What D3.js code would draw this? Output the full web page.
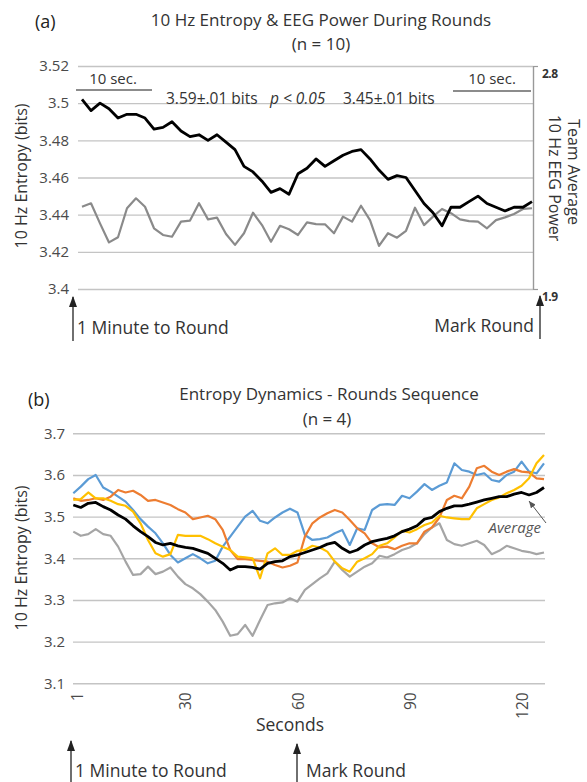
<!DOCTYPE html>
<html><head><meta charset="utf-8">
<script src="https://cdn.jsdelivr.net/npm/d3@7"></script>
<style>
body{margin:0;background:#fff}
svg{display:block}
text{font-family:"Open Sans",sans-serif}
</style>
</head><body><svg id="c" width="587" height="782"></svg>
<script>
// ---------- Panel (a) data ----------
const entropyA = [3.502,3.496,3.500,3.497,3.492,3.494,3.494,3.492,3.486,3.487,3.490,3.485,3.482,3.483,3.480,3.483,3.479,3.475,3.466,3.463,3.458,3.452,3.454,3.451,
3.462,3.465,3.470,3.466,3.469,3.472,3.474,3.475,3.470,3.464,3.459,3.461,3.460,3.453,3.446,3.441,3.434,3.444,3.444,3.447,3.450,3.446,3.444,3.442,3.444,3.444,3.447];
const powerA = [2.232,2.246,2.165,2.088,2.109,2.226,2.266,2.232,2.145,2.118,2.111,2.172,2.176,2.246,2.181,2.188,2.122,2.078,2.125,2.208,2.158,2.091,2.155,2.141,
2.118,2.169,2.162,2.161,2.125,2.192,2.172,2.236,2.178,2.074,2.125,2.107,2.135,2.228,2.158,2.192,2.223,2.206,2.181,2.174,2.172,2.145,2.178,2.189,2.203,2.223,2.226];
const ticksA = [3.4,3.42,3.44,3.46,3.48,3.5,3.52];
const rightTicksA = [1.9,2.8];

// ---------- Panel (b) data ----------
const seconds = [0,2,4,6,8,10,12,14,16,18,20,22,24,26,28,30,32,34,36,38,40,42,44,46,48,50,52,54,56,58,60,62,64,66,68,70,72,74,76,78,80,82,84,86,88,90,92,94,96,98,100,102,104,106,108,110,112,114,116,118,120,122,124,126];
const roundBlue = [3.556,3.572,3.590,3.600,3.570,3.560,3.548,3.536,3.516,3.494,3.476,3.460,3.436,3.408,3.390,3.400,3.410,3.400,3.388,3.394,3.428,3.452,3.476,3.500,3.514,3.490,3.484,3.498,3.510,3.519,3.510,3.456,3.444,3.446,3.450,3.460,3.468,3.432,3.472,3.468,3.516,3.528,3.530,3.528,3.550,3.544,3.560,3.578,3.564,3.574,3.582,3.628,3.612,3.608,3.600,3.604,3.588,3.584,3.600,3.608,3.632,3.608,3.604,3.628];
const roundOrange = [3.544,3.538,3.540,3.544,3.540,3.548,3.564,3.558,3.562,3.552,3.538,3.540,3.534,3.528,3.518,3.510,3.494,3.498,3.502,3.494,3.468,3.420,3.398,3.398,3.396,3.394,3.392,3.384,3.378,3.382,3.390,3.452,3.484,3.498,3.508,3.516,3.510,3.492,3.472,3.460,3.436,3.426,3.428,3.422,3.430,3.436,3.436,3.464,3.474,3.498,3.540,3.550,3.544,3.572,3.616,3.622,3.608,3.600,3.608,3.614,3.608,3.606,3.592,3.590];
const roundYellow = [3.540,3.542,3.558,3.544,3.544,3.538,3.530,3.526,3.512,3.484,3.444,3.412,3.404,3.410,3.456,3.454,3.454,3.454,3.446,3.436,3.428,3.420,3.404,3.402,3.400,3.352,3.412,3.424,3.408,3.408,3.418,3.420,3.430,3.426,3.416,3.392,3.376,3.368,3.392,3.400,3.410,3.430,3.436,3.450,3.466,3.462,3.470,3.480,3.486,3.502,3.498,3.496,3.494,3.494,3.520,3.530,3.540,3.546,3.556,3.564,3.574,3.592,3.628,3.648];
const roundGray = [3.464,3.454,3.458,3.470,3.458,3.454,3.428,3.392,3.360,3.362,3.380,3.362,3.368,3.378,3.356,3.338,3.328,3.314,3.296,3.276,3.248,3.214,3.218,3.240,3.214,3.252,3.288,3.292,3.294,3.304,3.296,3.324,3.338,3.352,3.364,3.392,3.372,3.356,3.368,3.380,3.388,3.406,3.402,3.410,3.420,3.426,3.436,3.458,3.474,3.484,3.444,3.434,3.430,3.436,3.442,3.432,3.410,3.418,3.430,3.424,3.418,3.415,3.410,3.414];
const averageB = [3.528,3.522,3.532,3.534,3.524,3.516,3.504,3.494,3.478,3.464,3.452,3.438,3.432,3.436,3.430,3.426,3.424,3.418,3.412,3.400,3.388,3.372,3.380,3.380,3.378,3.374,3.388,3.392,3.394,3.404,3.408,3.414,3.420,3.426,3.434,3.438,3.424,3.414,3.420,3.432,3.440,3.444,3.448,3.454,3.464,3.470,3.478,3.494,3.498,3.512,3.520,3.526,3.526,3.530,3.535,3.540,3.544,3.548,3.548,3.554,3.558,3.552,3.558,3.570];
const ticksB = [3.1,3.2,3.3,3.4,3.5,3.6,3.7];
const secTicks = [1,30,60,90,120];

const svg = d3.select("#c");
svg.append("rect").attr("width",587).attr("height",782).attr("fill","#fff");

const defs = svg.append("defs");
defs.append("marker").attr("id","ah").attr("viewBox","0 0 10 10").attr("preserveAspectRatio","none")
  .attr("refX",9).attr("refY",5)
  .attr("markerWidth",11).attr("markerHeight",8).attr("orient","auto").attr("markerUnits","userSpaceOnUse")
  .append("path").attr("d","M0,0 L10,5 L0,10 Z").attr("fill","#222");
defs.append("marker").attr("id","ahs").attr("viewBox","0 0 10 10").attr("preserveAspectRatio","none")
  .attr("refX",10).attr("refY",5)
  .attr("markerWidth",7).attr("markerHeight",6).attr("orient","auto").attr("markerUnits","userSpaceOnUse")
  .append("path").attr("d","M0,0 L10,5 L0,10 Z").attr("fill","#555");

const gridCol = "#c4c4c4", labCol = "#4a4a4a", txtCol = "#333";

function styleGrid(g){
  g.select(".domain").remove();
  g.selectAll(".tick line").attr("stroke",gridCol).attr("stroke-width",1.4);
  g.selectAll(".tick text").attr("fill",labCol).attr("font-size",15);
}

// ================= Panel (a) =================
const xA = d3.scaleLinear().domain([0, entropyA.length-1]).range([82, 532]);
const yA = d3.scaleLinear().domain([3.4,3.52]).range([289,66]);
const yA2 = d3.scaleLinear().domain([1.9,2.8]).range([289,66]);

svg.append("g").attr("transform","translate(78,0)")
  .call(d3.axisLeft(yA).tickValues(ticksA).tickSize(-(533-78)).tickPadding(9).tickFormat(d3.format("~g")))
  .call(styleGrid);

const ra = svg.append("g").attr("transform","translate(533,0)")
  .call(d3.axisRight(yA2).tickValues(rightTicksA).tickSize(5).tickSizeOuter(0).tickPadding(4).tickFormat(d3.format(".1f")));
ra.select(".domain").attr("stroke","#999").attr("stroke-width",1.4);
ra.selectAll(".tick line").attr("stroke","#999").attr("stroke-width",1.2);
ra.selectAll(".tick text").attr("fill","#333").attr("font-size",12).attr("font-weight","bold")
  .attr("letter-spacing","-0.5").attr("dy","0.95em");

svg.append("path").datum(powerA).attr("fill","none").attr("stroke","#8a8a8a").attr("stroke-width",2.2)
  .attr("stroke-linejoin","round")
  .attr("d", d3.line().x((d,i)=>xA(i)).y(d=>yA2(d)));
svg.append("path").datum(entropyA).attr("fill","none").attr("stroke","#000").attr("stroke-width",2.8)
  .attr("stroke-linejoin","round")
  .attr("d", d3.line().x((d,i)=>xA(i)).y(d=>yA(d)));

// titles
svg.append("text").attr("x",35).attr("y",28).attr("font-size",18).attr("fill","#222").text("(a)");
svg.append("text").attr("x",321).attr("y",26).attr("text-anchor","middle").attr("font-size",17).attr("fill",txtCol)
  .text("10 Hz Entropy & EEG Power During Rounds");
svg.append("text").attr("x",321).attr("y",50).attr("text-anchor","middle").attr("font-size",17).attr("fill",txtCol).text("(n = 10)");

svg.append("text").attr("transform","translate(27,176) rotate(-90)").attr("text-anchor","middle")
  .attr("font-size",16).attr("fill",txtCol).text("10 Hz Entropy (bits)");
svg.append("text").attr("transform","translate(568,172) rotate(90)").attr("text-anchor","middle")
  .attr("font-size",16).attr("fill",txtCol).text("Team Average");
svg.append("text").attr("transform","translate(549,178) rotate(90)").attr("text-anchor","middle")
  .attr("font-size",16).attr("fill",txtCol).text("10 Hz EEG Power");

// 10 sec annotations
svg.append("line").attr("x1",76).attr("x2",152).attr("y1",90).attr("y2",90).attr("stroke","#666").attr("stroke-width",1.6);
svg.append("text").attr("x",113).attr("y",84).attr("text-anchor","middle").attr("font-size",15).attr("fill",txtCol).text("10 sec.");
svg.append("line").attr("x1",453).attr("x2",531).attr("y1",91).attr("y2",91).attr("stroke","#666").attr("stroke-width",1.6);
svg.append("text").attr("x",492).attr("y",84).attr("text-anchor","middle").attr("font-size",15).attr("fill",txtCol).text("10 sec.");
svg.append("text").attr("x",166).attr("y",104).attr("font-size",15.5).attr("fill",txtCol).text("3.59±.01 bits");
svg.append("text").attr("x",270).attr("y",104).attr("font-size",15.5).attr("font-style","italic").attr("fill",txtCol).text("p < 0.05");
svg.append("text").attr("x",343).attr("y",104).attr("font-size",15.5).attr("fill",txtCol).text("3.45±.01 bits");

// bottom arrows (a)
svg.append("line").attr("x1",73).attr("x2",73).attr("y1",341).attr("y2",297).attr("stroke","#222").attr("stroke-width",1.3).attr("marker-end","url(#ah)");
svg.append("text").attr("x",77).attr("y",334).attr("font-size",17.5).attr("fill",txtCol).text("1 Minute to Round");
svg.append("line").attr("x1",540).attr("x2",540).attr("y1",339).attr("y2",296).attr("stroke","#222").attr("stroke-width",1.3).attr("marker-end","url(#ah)");
svg.append("text").attr("x",534).attr("y",332).attr("text-anchor","end").attr("font-size",17.5).attr("fill",txtCol).text("Mark Round");

// ================= Panel (b) =================
const xB = d3.scaleLinear().domain([0,126]).range([73.3,544]);
const yB = d3.scaleLinear().domain([3.1,3.7]).range([683.3,433.3]);

svg.append("g").attr("transform","translate(73,0)")
  .call(d3.axisLeft(yB).tickValues(ticksB).tickSize(-(545-73)).tickPadding(8).tickFormat(d3.format(".1f")))
  .call(styleGrid);

const xa = svg.append("g").attr("transform","translate(0,683.3)")
  .call(d3.axisBottom(xB).tickValues(secTicks).tickSize(0));
xa.select(".domain").remove();
xa.selectAll(".tick text").attr("fill",labCol).attr("font-size",15.5)
  .attr("transform","rotate(-90)").attr("text-anchor","end").attr("x",-9).attr("y",0).attr("dy","0.36em");

const lineB = d3.line().x((d,i)=>xB(seconds[i])).y(d=>yB(d)).curve(d3.curveLinear);
const seriesB = [
  {v:roundGray, c:"#a5a5a5", w:2.2},
  {v:roundBlue, c:"#5b9bd5", w:2.2},
  {v:roundOrange, c:"#ed7d31", w:2.2},
  {v:roundYellow, c:"#ffc000", w:2.2},
  {v:averageB, c:"#000", w:2.8}
];
seriesB.forEach(s=>{
  svg.append("path").datum(s.v).attr("fill","none").attr("stroke",s.c).attr("stroke-width",s.w)
    .attr("stroke-linejoin","round").attr("d",lineB);
});

svg.append("text").attr("x",28).attr("y",406).attr("font-size",18).attr("fill","#222").text("(b)");
svg.append("text").attr("x",329).attr("y",400).attr("text-anchor","middle").attr("font-size",17).attr("fill",txtCol)
  .text("Entropy Dynamics - Rounds Sequence");
svg.append("text").attr("x",327).attr("y",425).attr("text-anchor","middle").attr("font-size",17).attr("fill",txtCol).text("(n = 4)");
svg.append("text").attr("transform","translate(27,558) rotate(-90)").attr("text-anchor","middle")
  .attr("font-size",16).attr("fill",txtCol).text("10 Hz Entropy (bits)");
svg.append("text").attr("x",290).attr("y",731).attr("text-anchor","middle").attr("font-size",17.5).attr("fill",txtCol).text("Seconds");

svg.append("text").attr("x",541).attr("y",533).attr("text-anchor","end").attr("font-size",15).attr("font-style","italic").attr("fill","#555").text("Average");
svg.append("line").attr("x1",546).attr("y1",523).attr("x2",529).attr("y2",501).attr("stroke","#555").attr("stroke-width",1).attr("marker-end","url(#ahs)");

svg.append("line").attr("x1",71).attr("x2",71).attr("y1",782).attr("y2",741).attr("stroke","#222").attr("stroke-width",1.3).attr("marker-end","url(#ah)");
svg.append("text").attr("x",75).attr("y",777).attr("font-size",17.5).attr("fill",txtCol).text("1 Minute to Round");
svg.append("line").attr("x1",297).attr("x2",297).attr("y1",782).attr("y2",744).attr("stroke","#222").attr("stroke-width",1.3).attr("marker-end","url(#ah)");
svg.append("text").attr("x",306).attr("y",777).attr("font-size",17.5).attr("fill",txtCol).text("Mark Round");
</script>
</body></html>
